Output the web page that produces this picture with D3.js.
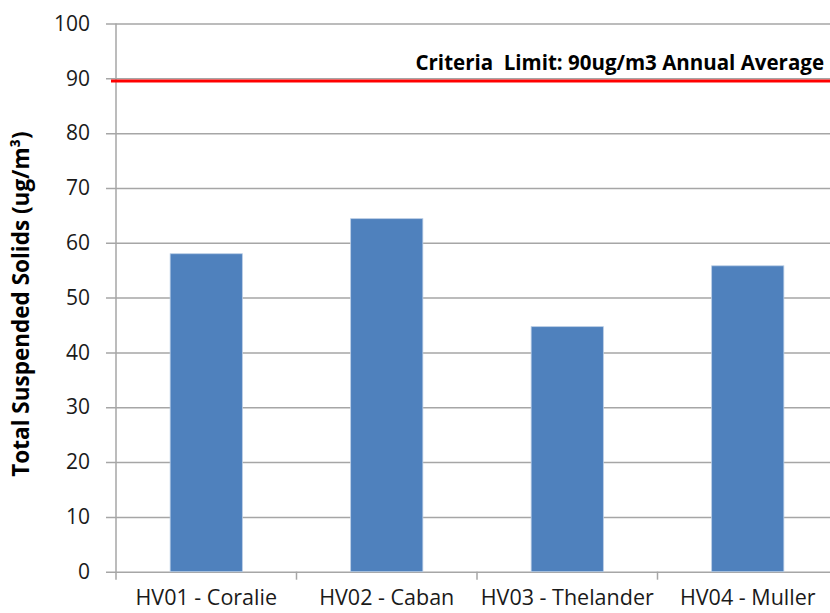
<!DOCTYPE html>
<html>
  <head>
    <meta charset="utf-8">
    <script src="https://d3js.org/d3.v7.min.js"></script>
    <style>
      body { margin: 0px; background: #fff; }
      .domain { display: none; }
      .tick text {
        fill: #1a1a1a;
        font-size: 21px;
        font-family: "Open Sans", sans-serif;
      }
      .x-axis .tick text { font-size: 21.5px; }
      .axis-label, .limit-label {
        fill: #000;
        font-weight: bold;
        font-family: "Open Sans", sans-serif;
      }
    </style>
  </head>
  <body>
    <svg width="830" height="613"></svg>
    <script>
      const sites = ['HV01 - Coralie', 'HV02 - Caban', 'HV03 - Thelander', 'HV04 - Muller'];
      const tss = [58.0, 64.4, 44.7, 55.8];
      const limitValue = 89.5;
      const limitLabel = 'Criteria  Limit: 90ug/m3 Annual Average';
      const yTicks = [0, 10, 20, 30, 40, 50, 60, 70, 80, 90, 100];

      const data = sites.map((s, i) => ({ site: s, value: tss[i] }));

      const svg = d3.select('svg');
      const margin = { left: 116, top: 23.5, right: -8, bottom: 41.3 };
      const innerWidth = 830 - margin.left - margin.right;
      const innerHeight = 613 - margin.top - margin.bottom;

      const g = svg.append('g')
          .attr('transform', `translate(${margin.left},${margin.top})`);

      const xScale = d3.scaleBand()
        .domain(sites)
        .range([0, innerWidth])
        .paddingInner(0.6)
        .paddingOuter(0.3);

      const yScale = d3.scaleLinear()
        .domain([0, 100])
        .range([innerHeight, 0]);

      // gridlines + y ticks
      const yAxis = d3.axisLeft(yScale)
        .tickValues(yTicks)
        .tickPadding(16)
        .tickSize(-innerWidth - 10);
      const yAxisG = g.append('g')
          .attr('transform', 'translate(-10,0)')
          .call(yAxis);
      yAxisG.selectAll('.tick line')
          .attr('x1', 0)
          .attr('x2', innerWidth + 10)
          .attr('stroke', '#a6a6a6')
          .attr('stroke-width', 1.5);
      yAxisG.selectAll('.tick text').attr('x', -16);

      // vertical axis line
      g.append('line')
          .attr('x1', 0).attr('x2', 0)
          .attr('y1', 0).attr('y2', innerHeight + 8)
          .attr('stroke', '#a6a6a6')
          .attr('stroke-width', 1.5);

      // category boundary ticks
      const step = innerWidth / sites.length;
      g.selectAll('.cat-tick').data(d3.range(1, sites.length + 1))
        .enter().append('line')
          .attr('class', 'cat-tick')
          .attr('x1', d => d * step).attr('x2', d => d * step)
          .attr('y1', innerHeight).attr('y2', innerHeight + 8)
          .attr('stroke', '#a6a6a6')
          .attr('stroke-width', 1.5);

      // bars
      g.selectAll('rect.bar').data(data)
        .enter().append('rect')
          .attr('class', 'bar')
          .attr('x', d => xScale(d.site))
          .attr('y', d => yScale(d.value))
          .attr('width', xScale.bandwidth())
          .attr('height', d => innerHeight - yScale(d.value))
          .attr('fill', '#4f81bd')
          .attr('stroke', '#b9cde5')
          .attr('stroke-width', 0.8);

      // x axis labels
      const xAxis = d3.axisBottom(xScale).tickSize(0).tickPadding(18);
      g.append('g')
          .attr('class', 'x-axis')
          .attr('transform', `translate(0,${innerHeight})`)
          .call(xAxis);

      // limit line
      g.append('line')
          .attr('x1', -5)
          .attr('x2', innerWidth)
          .attr('y1', yScale(limitValue))
          .attr('y2', yScale(limitValue))
          .attr('stroke', '#ff0000')
          .attr('stroke-width', 3);

      svg.append('text')
          .attr('class', 'limit-label')
          .attr('x', 824)
          .attr('y', 70)
          .attr('text-anchor', 'end')
          .style('font-size', '20.5px')
          .style('white-space', 'pre')
          .text(limitLabel);

      svg.append('text')
          .attr('class', 'axis-label')
          .attr('transform', `translate(29,304) rotate(-90)`)
          .attr('text-anchor', 'middle')
          .style('font-size', '22.5px')
          .text('Total Suspended Solids (ug/m³)');
    </script>
  </body>
</html>
